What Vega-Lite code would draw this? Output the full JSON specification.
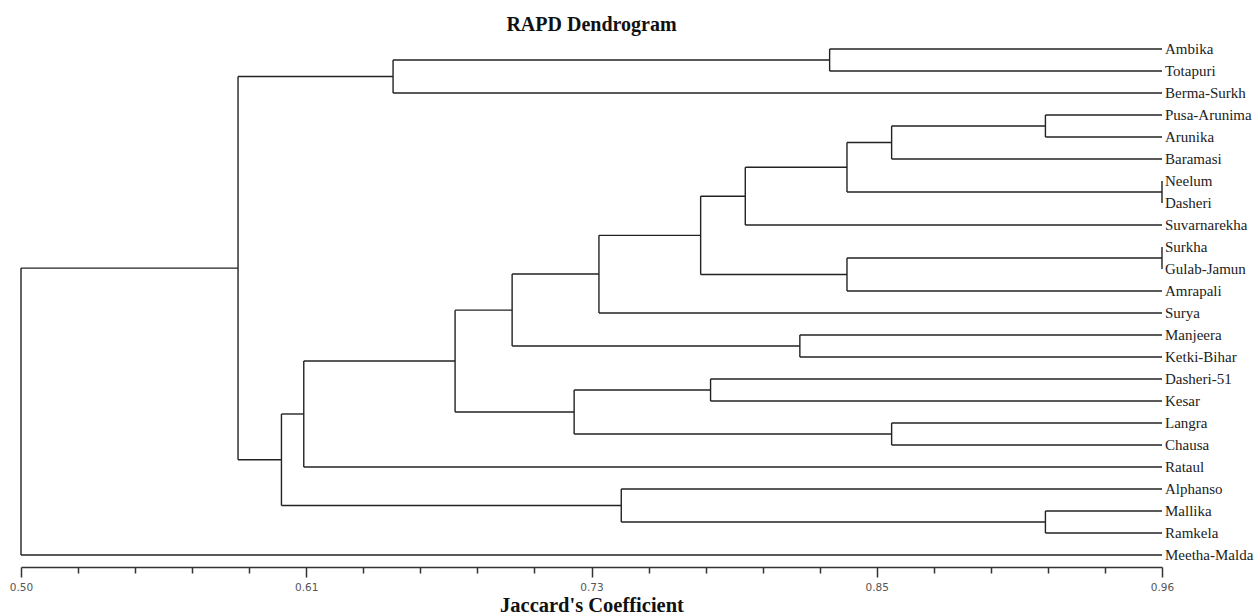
{
  "$schema": "https://vega.github.io/schema/vega-lite/v6.json",
  "width": 1141,
  "height": 529,
  "autosize": {"type": "none"},
  "padding": {"left": 21, "top": 38, "right": 95, "bottom": 49},
  "background": "white",
  "title": {"text": "RAPD Dendrogram", "font": "Liberation Serif", "fontSize": 20, "fontWeight": "bold", "color": "#111", "anchor": "middle", "frame": "group", "offset": 3},
  "config": {"view": {"stroke": null}},
  "datasets": {
    "segs": [
      {"x": 0.826, "x2": 0.96, "y": 0, "y2": 0},
      {"x": 0.826, "x2": 0.96, "y": 1, "y2": 1},
      {"x": 0.65, "x2": 0.826, "y": 0.5, "y2": 0.5},
      {"x": 0.65, "x2": 0.96, "y": 2, "y2": 2},
      {"x": 0.913, "x2": 0.96, "y": 3, "y2": 3},
      {"x": 0.913, "x2": 0.96, "y": 4, "y2": 4},
      {"x": 0.851, "x2": 0.913, "y": 3.5, "y2": 3.5},
      {"x": 0.851, "x2": 0.96, "y": 5, "y2": 5},
      {"x": 0.833, "x2": 0.851, "y": 4.25, "y2": 4.25},
      {"x": 0.833, "x2": 0.96, "y": 6.5, "y2": 6.5},
      {"x": 0.792, "x2": 0.833, "y": 5.375, "y2": 5.375},
      {"x": 0.792, "x2": 0.96, "y": 8, "y2": 8},
      {"x": 0.774, "x2": 0.792, "y": 6.69, "y2": 6.69},
      {"x": 0.833, "x2": 0.96, "y": 9.5, "y2": 9.5},
      {"x": 0.833, "x2": 0.96, "y": 11, "y2": 11},
      {"x": 0.774, "x2": 0.833, "y": 10.25, "y2": 10.25},
      {"x": 0.733, "x2": 0.774, "y": 8.47, "y2": 8.47},
      {"x": 0.733, "x2": 0.96, "y": 12, "y2": 12},
      {"x": 0.698, "x2": 0.733, "y": 10.23, "y2": 10.23},
      {"x": 0.814, "x2": 0.96, "y": 13, "y2": 13},
      {"x": 0.814, "x2": 0.96, "y": 14, "y2": 14},
      {"x": 0.698, "x2": 0.814, "y": 13.5, "y2": 13.5},
      {"x": 0.675, "x2": 0.698, "y": 11.87, "y2": 11.87},
      {"x": 0.778, "x2": 0.96, "y": 15, "y2": 15},
      {"x": 0.778, "x2": 0.96, "y": 16, "y2": 16},
      {"x": 0.851, "x2": 0.96, "y": 17, "y2": 17},
      {"x": 0.851, "x2": 0.96, "y": 18, "y2": 18},
      {"x": 0.723, "x2": 0.778, "y": 15.5, "y2": 15.5},
      {"x": 0.723, "x2": 0.851, "y": 17.5, "y2": 17.5},
      {"x": 0.675, "x2": 0.723, "y": 16.5, "y2": 16.5},
      {"x": 0.614, "x2": 0.675, "y": 14.18, "y2": 14.18},
      {"x": 0.614, "x2": 0.96, "y": 19, "y2": 19},
      {"x": 0.605, "x2": 0.614, "y": 16.59, "y2": 16.59},
      {"x": 0.742, "x2": 0.96, "y": 20, "y2": 20},
      {"x": 0.913, "x2": 0.96, "y": 21, "y2": 21},
      {"x": 0.913, "x2": 0.96, "y": 22, "y2": 22},
      {"x": 0.742, "x2": 0.913, "y": 21.5, "y2": 21.5},
      {"x": 0.605, "x2": 0.742, "y": 20.75, "y2": 20.75},
      {"x": 0.5875, "x2": 0.65, "y": 1.25, "y2": 1.25},
      {"x": 0.5875, "x2": 0.605, "y": 18.67, "y2": 18.67},
      {"x": 0.5, "x2": 0.5875, "y": 9.96, "y2": 9.96},
      {"x": 0.5, "x2": 0.96, "y": 23, "y2": 23},
      {"x": 0.826, "x2": 0.826, "y": 0, "y2": 1},
      {"x": 0.65, "x2": 0.65, "y": 0.5, "y2": 2},
      {"x": 0.913, "x2": 0.913, "y": 3, "y2": 4},
      {"x": 0.851, "x2": 0.851, "y": 3.5, "y2": 5},
      {"x": 0.96, "x2": 0.96, "y": 6, "y2": 7},
      {"x": 0.833, "x2": 0.833, "y": 4.25, "y2": 6.5},
      {"x": 0.792, "x2": 0.792, "y": 5.375, "y2": 8},
      {"x": 0.96, "x2": 0.96, "y": 9, "y2": 10},
      {"x": 0.833, "x2": 0.833, "y": 9.5, "y2": 11},
      {"x": 0.774, "x2": 0.774, "y": 6.69, "y2": 10.25},
      {"x": 0.733, "x2": 0.733, "y": 8.47, "y2": 12},
      {"x": 0.814, "x2": 0.814, "y": 13, "y2": 14},
      {"x": 0.698, "x2": 0.698, "y": 10.23, "y2": 13.5},
      {"x": 0.778, "x2": 0.778, "y": 15, "y2": 16},
      {"x": 0.851, "x2": 0.851, "y": 17, "y2": 18},
      {"x": 0.723, "x2": 0.723, "y": 15.5, "y2": 17.5},
      {"x": 0.675, "x2": 0.675, "y": 11.87, "y2": 16.5},
      {"x": 0.614, "x2": 0.614, "y": 14.18, "y2": 19},
      {"x": 0.913, "x2": 0.913, "y": 21, "y2": 22},
      {"x": 0.742, "x2": 0.742, "y": 20, "y2": 21.5},
      {"x": 0.605, "x2": 0.605, "y": 16.59, "y2": 20.75},
      {"x": 0.5875, "x2": 0.5875, "y": 1.25, "y2": 18.67},
      {"x": 0.5, "x2": 0.5, "y": 9.96, "y2": 23}
    ],
    "leaves": [
      {"name": "Ambika", "x": 0.96, "y": 0},
      {"name": "Totapuri", "x": 0.96, "y": 1},
      {"name": "Berma-Surkh", "x": 0.96, "y": 2},
      {"name": "Pusa-Arunima", "x": 0.96, "y": 3},
      {"name": "Arunika", "x": 0.96, "y": 4},
      {"name": "Baramasi", "x": 0.96, "y": 5},
      {"name": "Neelum", "x": 0.96, "y": 6},
      {"name": "Dasheri", "x": 0.96, "y": 7},
      {"name": "Suvarnarekha", "x": 0.96, "y": 8},
      {"name": "Surkha", "x": 0.96, "y": 9},
      {"name": "Gulab-Jamun", "x": 0.96, "y": 10},
      {"name": "Amrapali", "x": 0.96, "y": 11},
      {"name": "Surya", "x": 0.96, "y": 12},
      {"name": "Manjeera", "x": 0.96, "y": 13},
      {"name": "Ketki-Bihar", "x": 0.96, "y": 14},
      {"name": "Dasheri-51", "x": 0.96, "y": 15},
      {"name": "Kesar", "x": 0.96, "y": 16},
      {"name": "Langra", "x": 0.96, "y": 17},
      {"name": "Chausa", "x": 0.96, "y": 18},
      {"name": "Rataul", "x": 0.96, "y": 19},
      {"name": "Alphanso", "x": 0.96, "y": 20},
      {"name": "Mallika", "x": 0.96, "y": 21},
      {"name": "Ramkela", "x": 0.96, "y": 22},
      {"name": "Meetha-Malda", "x": 0.96, "y": 23}
    ]
  },
  "layer": [
    {
      "data": {"name": "segs"},
      "mark": {"type": "rule", "color": "#222", "strokeWidth": 1.4},
      "encoding": {
        "x": {
          "field": "x", "type": "quantitative",
          "scale": {"domain": [0.5, 0.96], "nice": false, "zero": false},
          "axis": {
            "title": "Jaccard's Coefficient",
            "titleFont": "Liberation Serif", "titleFontSize": 20.5, "titleFontWeight": "bold", "titleColor": "#111", "titlePadding": 3,
            "values": [0.5, 0.523, 0.546, 0.569, 0.592, 0.615, 0.638, 0.661, 0.684, 0.707, 0.73, 0.753, 0.776, 0.799, 0.822, 0.845, 0.868, 0.891, 0.914, 0.937, 0.96],
            "labelExpr": "abs(datum.value-0.5)<0.001 ? '0.50' : abs(datum.value-0.615)<0.001 ? '0.61' : abs(datum.value-0.73)<0.001 ? '0.73' : abs(datum.value-0.845)<0.001 ? '0.85' : abs(datum.value-0.96)<0.001 ? '0.96' : ''",
            "labelFont": "DejaVu Sans", "labelFontSize": 10.5, "labelColor": "#555", "labelPadding": 5, "labelFlush": false, "labelOverlap": false,
            "tickSize": {"condition": {"test": "abs(datum.value-0.5)<0.001 || abs(datum.value-0.615)<0.001 || abs(datum.value-0.73)<0.001 || abs(datum.value-0.845)<0.001 || abs(datum.value-0.96)<0.001", "value": 10}, "value": 6},
            "tickColor": "#333", "tickWidth": 1.5, "domainColor": "#333", "domainWidth": 1.5, "grid": false
          }
        },
        "x2": {"field": "x2"},
        "y": {
          "field": "y", "type": "quantitative",
          "scale": {"domain": [-0.5, 23.545], "reverse": true, "nice": false, "zero": false},
          "axis": null
        },
        "y2": {"field": "y2"}
      }
    },
    {
      "data": {"name": "leaves"},
      "mark": {"type": "text", "align": "left", "baseline": "middle", "dx": 3, "font": "Liberation Serif", "fontSize": 15, "color": "#222"},
      "encoding": {
        "x": {"field": "x", "type": "quantitative"},
        "y": {"field": "y", "type": "quantitative"},
        "text": {"field": "name"}
      }
    }
  ]
}
